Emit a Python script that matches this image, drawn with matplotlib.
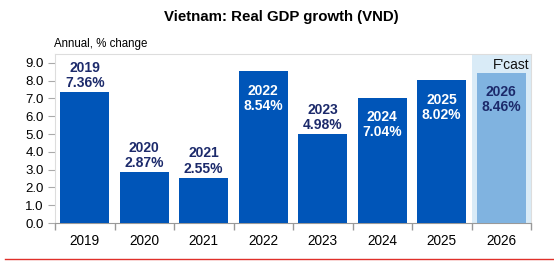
import matplotlib.pyplot as plt

plt.rcParams['font.family'] = ['Liberation Sans', 'DejaVu Sans']

# data
years = ['2019', '2020', '2021', '2022', '2023', '2024', '2025', '2026']
growth = [7.36, 2.87, 2.55, 8.54, 4.98, 7.04, 8.02, 8.46]
inside = [False, False, False, True, False, True, True, True]
forecast = [False] * 7 + [True]
yticks = [0, 1, 2, 3, 4, 5, 6, 7, 8, 9]

bar_col = '#0055b8'
fc_col = '#80b3e0'
shade_col = '#d9ebf7'
navy = '#1c2a6b'

fig = plt.figure(figsize=(5.54, 2.62), dpi=100)
ax = fig.add_axes([55 / 554, 39 / 262, 476 / 554, 169 / 262])

xs = range(len(years))
cols = [fc_col if f else bar_col for f in forecast]
ax.bar(xs, growth, width=0.82, color=cols, zorder=3)

# forecast shading
ax.axvspan(len(years) - 1.5, len(years) - 0.5, color=shade_col, zorder=1, lw=0)
ax.text(len(years) - 0.53, 8.88, "F'cast", ha='right', va='center', fontsize=10,
        color='#111111', zorder=6)

for i, (y, v) in enumerate(zip(years, growth)):
    txt = '%s\n%.2f%%' % (y, v)
    if inside[i]:
        c = navy if forecast[i] else 'white'
        ax.text(i, v - 0.7, txt, ha='center', va='top', fontsize=10, fontweight='bold',
                color=c, linespacing=1.1, zorder=4)
    else:
        ax.text(i, v + 0.12, txt, ha='center', va='bottom', fontsize=10, fontweight='bold',
                color=navy, linespacing=1.1, zorder=4)

ax.set_xlim(-0.5, len(years) - 0.5)
ax.set_ylim(0, 9.5)
ax.set_yticks(yticks)
ax.set_yticklabels(['%.1f' % t for t in yticks], fontsize=9.5)
ax.set_xticks(xs)
ax.set_xticklabels(years, fontsize=9.8)
ax.set_xticks([i - 0.5 for i in range(len(years) + 1)], minor=True)
ax.tick_params(axis='x', which='major', length=0, pad=8)
ax.tick_params(axis='x', which='minor', length=5, color='#999999', width=1)
ax.tick_params(axis='y', length=5, color='#aaaaaa', pad=3)

for s in ['top', 'right', 'left']:
    ax.spines[s].set_color('#dddddd')
ax.spines['bottom'].set_color('#999999')

fig.text(281 / 554, 1 - 17 / 262, 'Vietnam: Real GDP growth (VND)', ha='center', va='center',
         fontsize=10.8, fontweight='bold')
fig.text(54 / 554, 1 - 44 / 262, 'Annual, % change', ha='left', va='center', fontsize=8.3)

fig.add_artist(plt.Line2D([5 / 554, 1], [1 - 258.5 / 262] * 2, color='#e0302a', lw=1))

fig.savefig('out.png', dpi=100)
